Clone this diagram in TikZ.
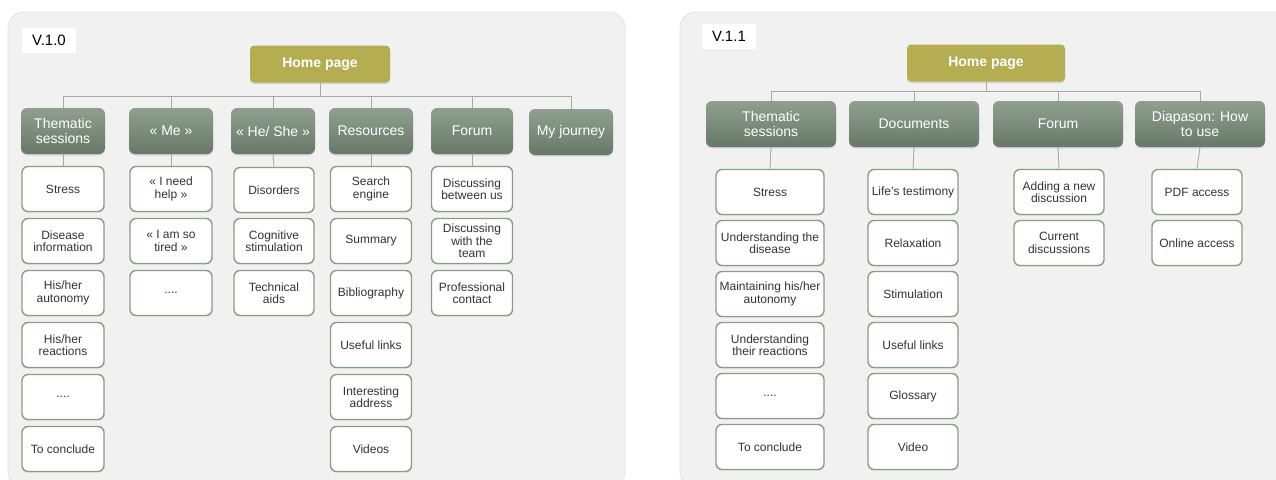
\documentclass[tikz,border=0pt]{standalone}
\usepackage{fontspec}
\setmainfont{Liberation Sans}
\usetikzlibrary{shadows}

\definecolor{panelgray}{HTML}{F1F1F1}
\definecolor{paneledge}{HTML}{E2E2E2}
\definecolor{olive}{HTML}{B4AD52}
\definecolor{sagetop}{HTML}{8FA08F}
\definecolor{sagebot}{HTML}{687868}
\definecolor{sageedge}{HTML}{8A9D8A}
\definecolor{linkgray}{HTML}{A3ABA3}
\definecolor{textgray}{HTML}{333333}

\begin{document}
\begin{tikzpicture}[
                x=1pt, y=-1pt,
                panel/.style={fill=panelgray, draw=paneledge, line width=0.8pt, rounded corners=16pt},
                verlabel/.style={fill=white, minimum width=54pt, minimum height=25pt,
                                 inner sep=0pt, font=\fontsize{15}{15}\selectfont},
                homebox/.style={fill=olive, rounded corners=4pt, inner sep=0pt,
                                minimum height=37pt, text=white,
                                font=\fontsize{14}{15}\selectfont\bfseries,
                                drop shadow={shadow xshift=0pt, shadow yshift=-1.5pt, opacity=0.25}},
                topbox/.style={top color=sagetop, bottom color=sagebot, rounded corners=6pt,
                               inner sep=0pt, minimum height=46pt, align=center, text=white,
                               font=\fontsize{14}{15.5}\selectfont,
                               drop shadow={shadow xshift=0pt, shadow yshift=-1.5pt, opacity=0.25}},
                leafbox/.style={fill=white, draw=sageedge, line width=1.4pt, rounded corners=6pt,
                                inner sep=0pt, minimum height=45pt, align=center, text=textgray,
                                font=\fontsize{12}{12.5}\selectfont,
                                drop shadow={shadow xshift=0pt, shadow yshift=-1pt, opacity=0.15}},
                link/.style={draw=linkgray, line width=0.9pt}
            ]
                \useasboundingbox (0,0) rectangle (1276,479);

                % version 1.0
                \draw[panel] (8,12) rectangle (625,488);
                \node[verlabel] (v10) at (49,40) {V.1.0};
                \node[homebox, minimum width=140pt] (home1) at (320,64) {Home page};

                \node[topbox, minimum width=84pt] (ts1) at (63,131) {Thematic\\sessions};
                \node[topbox, minimum width=84pt] (me) at (171,131) {« Me »};
                \node[topbox, minimum width=84pt] (he) at (273,131) {« He/ She »};
                \node[topbox, minimum width=84pt] (res) at (371,131) {Resources};
                \node[topbox, minimum width=82pt] (forum1) at (472,131) {Forum};
                \node[topbox, minimum width=84pt] (journey) at (571,132) {My journey};

                \foreach \n in {ts1, me, he, res, forum1, journey}
                    \draw[link] (home1.south) -- ++(0,14) -| (\n.north);

                \node[leafbox, minimum width=82pt] (ts1a) at (63,189) {Stress};
                \node[leafbox, minimum width=82pt] (ts1b) at (63,241) {Disease\\information};
                \node[leafbox, minimum width=82pt] (ts1c) at (63,293) {His/her\\autonomy};
                \node[leafbox, minimum width=82pt] (ts1d) at (63,345) {His/her\\reactions};
                \node[leafbox, minimum width=82pt] (ts1e) at (63,397) {....};
                \node[leafbox, minimum width=82pt] (ts1f) at (63,449) {To conclude};

                \node[leafbox, minimum width=82pt] (mea) at (171,189) {« I need\\help »};
                \node[leafbox, minimum width=82pt] (meb) at (171,241) {« I am so\\tired »};
                \node[leafbox, minimum width=82pt] (mec) at (171,293) {....};

                \node[leafbox, minimum width=80pt] (hea) at (274,190) {Disorders};
                \node[leafbox, minimum width=80pt] (heb) at (274,241) {Cognitive\\stimulation};
                \node[leafbox, minimum width=80pt] (hec) at (274,293) {Technical\\aids};

                \node[leafbox, minimum width=81pt] (resa) at (371,189) {Search\\engine};
                \node[leafbox, minimum width=81pt] (resb) at (371,241) {Summary};
                \node[leafbox, minimum width=81pt] (resc) at (371,293) {Bibliography};
                \node[leafbox, minimum width=81pt] (resd) at (371,345) {Useful links};
                \node[leafbox, minimum width=81pt] (rese) at (371,397) {Interesting\\address};
                \node[leafbox, minimum width=81pt] (resf) at (371,449) {Videos};

                \node[leafbox, minimum width=81pt] (forum1a) at (472,189) {Discussing\\between us};
                \node[leafbox, minimum width=81pt] (forum1b) at (472,241) {Discussing\\with the\\team};
                \node[leafbox, minimum width=81pt] (forum1c) at (472,293) {Professional\\contact};

                \draw[link] (ts1.south) -- (ts1a.north);
                \draw[link] (me.south) -- (mea.north);
                \draw[link] (he.south) -- (hea.north);
                \draw[link] (res.south) -- (resa.north);
                \draw[link] (forum1.south) -- (forum1a.north);

                % version 1.1
                \draw[panel] (680,12) rectangle (1292,488);
                \node[verlabel] (v11) at (729,36) {V.1.1};
                \node[homebox, minimum width=158pt] (home2) at (986,63) {Home page};

                \node[topbox, minimum width=130pt] (ts2) at (771,124) {Thematic\\sessions};
                \node[topbox, minimum width=130pt] (docs) at (914,124) {Documents};
                \node[topbox, minimum width=130pt] (forum2) at (1058,124) {Forum};
                \node[topbox, minimum width=130pt] (diap) at (1200,124) {Diapason: How\\to use};

                \foreach \n in {ts2, docs, forum2, diap}
                    \draw[link] (home2.south) -- ++(0,10) -| (\n.north);

                \node[leafbox, minimum width=108pt] (ts2a) at (770,192) {Stress};
                \node[leafbox, minimum width=108pt] (ts2b) at (770,243) {Understanding the\\disease};
                \node[leafbox, minimum width=108pt] (ts2c) at (770,294) {Maintaining his/her\\autonomy};
                \node[leafbox, minimum width=108pt] (ts2d) at (770,345) {Understanding\\their reactions};
                \node[leafbox, minimum width=108pt] (ts2e) at (770,396) {....};
                \node[leafbox, minimum width=108pt] (ts2f) at (770,447) {To conclude};

                \node[leafbox, minimum width=90pt] (docsa) at (913,192) {Life’s testimony};
                \node[leafbox, minimum width=90pt] (docsb) at (913,243) {Relaxation};
                \node[leafbox, minimum width=90pt] (docsc) at (913,294) {Stimulation};
                \node[leafbox, minimum width=90pt] (docsd) at (913,345) {Useful links};
                \node[leafbox, minimum width=90pt] (docse) at (913,396) {Glossary};
                \node[leafbox, minimum width=90pt] (docsf) at (913,447) {Video};

                \node[leafbox, minimum width=90pt] (forum2a) at (1059,192) {Adding a new\\discussion};
                \node[leafbox, minimum width=90pt] (forum2b) at (1059,243) {Current\\discussions};

                \node[leafbox, minimum width=90pt] (diapa) at (1197,192) {PDF access};
                \node[leafbox, minimum width=90pt] (diapb) at (1197,243) {Online access};

                \draw[link] (ts2.south) -- (ts2a.north);
                \draw[link] (docs.south) -- (docsa.north);
                \draw[link] (forum2.south) -- (forum2a.north);
                \draw[link] (diap.south) -- (diapa.north);
            \end{tikzpicture}
\end{document}
